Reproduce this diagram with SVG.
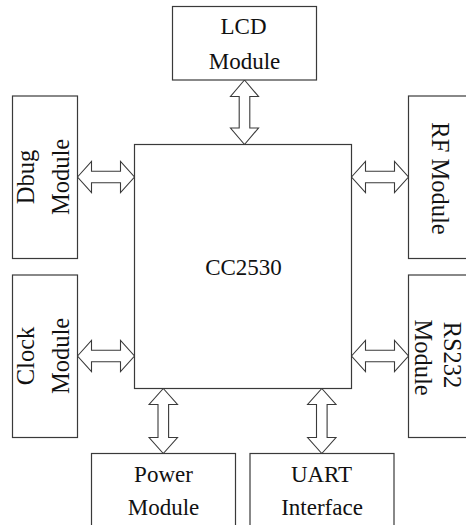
<svg xmlns="http://www.w3.org/2000/svg" width="466" height="525" viewBox="0 0 466 525">
<style>
.box{fill:#fff;stroke:#3a3a3a;stroke-width:1.2}
.arr{fill:#fff;stroke:#3a3a3a;stroke-width:1.1;stroke-linejoin:miter}
.t{font-family:"Liberation Serif","Times New Roman",serif;font-size:23px;fill:#111;text-anchor:middle}
.r{font-family:"Liberation Serif","Times New Roman",serif;font-size:24.5px;fill:#111;text-anchor:middle}
</style>
<rect width="466" height="525" fill="#fff"/>
<g id="connectors">
<path class="arr" d="M244.5,80 L258.5,96.5 L249.8,96.5 L249.8,128 L258.5,128 L244.5,144.5 L230.5,128 L239.2,128 L239.2,96.5 L230.5,96.5 Z"/>
<path class="arr" d="M163.3,388.5 L177.5,404.5 L168.6,404.5 L168.6,437.5 L177.5,437.5 L163.3,453.5 L149.1,437.5 L158,437.5 L158,404.5 L149.1,404.5 Z"/>
<path class="arr" d="M321.8,388.5 L336,404.5 L327.1,404.5 L327.1,437.5 L336,437.5 L321.8,453.5 L307.6,437.5 L316.5,437.5 L316.5,404.5 L307.6,404.5 Z"/>
<path class="arr" d="M77.5,177 L91.5,161.5 L91.5,171.2 L120.5,171.2 L120.5,161.5 L134.5,177 L120.5,192.5 L120.5,182.8 L91.5,182.8 L91.5,192.5 Z"/>
<path class="arr" d="M351.5,177 L365.5,161.5 L365.5,171.2 L394.5,171.2 L394.5,161.5 L408.5,177 L394.5,192.5 L394.5,182.8 L365.5,182.8 L365.5,192.5 Z"/>
<path class="arr" d="M77.5,356 L91.5,340.5 L91.5,350.2 L120.5,350.2 L120.5,340.5 L134.5,356 L120.5,371.5 L120.5,361.8 L91.5,361.8 L91.5,371.5 Z"/>
<path class="arr" d="M351.5,356 L365.5,340.5 L365.5,350.2 L394.5,350.2 L394.5,340.5 L408.5,356 L394.5,371.5 L394.5,361.8 L365.5,361.8 L365.5,371.5 Z"/>
</g>
<g id="lcd">
<rect class="box" x="172.5" y="6.5" width="144" height="73.5"/>
<text class="t" x="243.5" y="34">LCD</text>
<text class="t" x="244.5" y="69">Module</text>
</g>
<g id="cc2530">
<rect class="box" x="134.5" y="144.5" width="217" height="244"/>
<text class="t" x="243.5" y="275">CC2530</text>
</g>
<g id="dbug">
<rect class="box" x="12.5" y="96" width="65" height="162.5"/>
<text class="r" transform="translate(34,177) rotate(-90)">Dbug</text>
<text class="r" transform="translate(68.5,177) rotate(-90)">Module</text>
</g>
<g id="clock">
<rect class="box" x="12.5" y="275" width="65" height="162.5"/>
<text class="r" transform="translate(34,356) rotate(-90)">Clock</text>
<text class="r" transform="translate(68.5,356) rotate(-90)">Module</text>
</g>
<g id="rf">
<rect class="box" x="408.5" y="96" width="70" height="162.5"/>
<text class="r" transform="translate(432,178.5) rotate(90)">RF Module</text>
</g>
<g id="rs232">
<rect class="box" x="408.5" y="275" width="70" height="162.5"/>
<text class="r" transform="translate(443.5,355) rotate(90)">RS232</text>
<text class="r" transform="translate(415,357.5) rotate(90)">Module</text>
</g>
<g id="power">
<rect class="box" x="91.5" y="453.5" width="144" height="80"/>
<text class="t" x="163.5" y="481.5">Power</text>
<text class="t" x="163.5" y="515">Module</text>
</g>
<g id="uart">
<rect class="box" x="250" y="453.5" width="144" height="80"/>
<text class="t" x="321.5" y="481.5">UART</text>
<text class="t" x="322" y="515">Interface</text>
</g>
</svg>
